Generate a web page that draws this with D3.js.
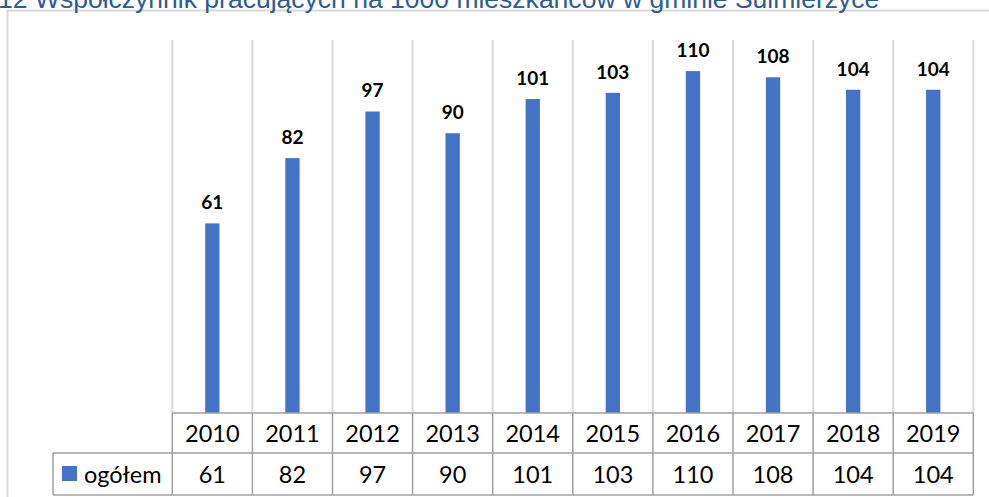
<!DOCTYPE html>
<html>
<head>
<meta charset="utf-8">
<script src="https://cdn.jsdelivr.net/npm/d3@7"></script>
<style>
  html, body { margin: 0; padding: 0; background: #fff; overflow: hidden; }
  svg { display: block; }
</style>
</head>
<body>
<svg id="chart" width="989" height="497"></svg>
<script>
const titleText = "12 Współczynnik pracujących na 1000 mieszkańców w gminie Sulmierzyce";
const years = ["2010","2011","2012","2013","2014","2015","2016","2017","2018","2019"];
const values = [61, 82, 97, 90, 101, 103, 110, 108, 104, 104];
const seriesName = "ogółem";
const yMax = 120;

const svg = d3.select("#chart");
const W = 989, H = 497;
const plot = { left: 172.3, right: 973.3, top: 40, bottom: 413 };
const legendLeft = 53;
const barColor = "#4472C4";
const gridColor = "#d9d9d9";
const tableColor = "#a0a0a0";

// outer chart frame
svg.append("path")
  .attr("d", `M7.5,${H} V10.5 H${W}`)
  .attr("fill", "none").attr("stroke", gridColor).attr("stroke-width", 2);

// title (clipped at top)
const title = svg.append("text")
  .attr("x", -2).attr("y", 8)
  .attr("font-family", "Liberation Sans, Arial, sans-serif")
  .attr("font-size", 24)
  .attr("fill", "#2E5C8F")
  .text(titleText);
const tl = title.node().getComputedTextLength();
title.attr("font-size", 24 * 882 / tl);

const x = d3.scaleBand().domain(years).range([plot.left, plot.right]);
const y = d3.scaleLinear().domain([0, yMax]).range([plot.bottom, plot.top]);

// vertical gridlines at band boundaries
const bounds = years.map(d => x(d)).concat([plot.right]);
svg.append("g").selectAll("line").data(bounds).join("line")
  .attr("x1", d => d).attr("x2", d => d)
  .attr("y1", plot.top).attr("y2", plot.bottom)
  .attr("stroke", gridColor).attr("stroke-width", 2);

// bars
const barW = 14.3;
svg.append("g").selectAll("rect").data(values).join("rect")
  .attr("x", (d, i) => x(years[i]) + x.bandwidth() / 2 - barW / 2)
  .attr("width", barW)
  .attr("y", d => y(d))
  .attr("height", d => y(0) - y(d))
  .attr("fill", barColor);

// data labels
svg.append("g").selectAll("text").data(values).join("text")
  .attr("x", (d, i) => x(years[i]) + x.bandwidth() / 2)
  .attr("y", d => y(d) - 14)
  .attr("text-anchor", "middle")
  .attr("font-family", "Lato, 'Open Sans', sans-serif")
  .attr("font-weight", "bold")
  .attr("font-size", 19)
  .attr("fill", "#000")
  .text(d => d);

// data table
const t = svg.append("g");
const r1 = plot.bottom, r2 = plot.bottom + 40, r3 = H - 2;
t.append("line").attr("x1", plot.left).attr("x2", plot.right).attr("y1", r1).attr("y2", r1);
t.append("line").attr("x1", legendLeft).attr("x2", plot.right).attr("y1", r2).attr("y2", r2);
t.append("line").attr("x1", legendLeft).attr("x2", plot.right).attr("y1", r3).attr("y2", r3);
t.append("line").attr("x1", legendLeft).attr("x2", legendLeft).attr("y1", r2).attr("y2", r3);
t.selectAll("line.v").data(bounds).join("line").attr("class", "v")
  .attr("x1", d => d).attr("x2", d => d).attr("y1", r1).attr("y2", r3);
t.selectAll("line").attr("stroke", tableColor).attr("stroke-width", 1.5);

const tableFont = "Lato, 'Open Sans', sans-serif";
const tfs = 23.5;
t.selectAll("text.yr").data(years).join("text").attr("class", "yr")
  .attr("x", d => x(d) + x.bandwidth() / 2)
  .attr("y", (r1 + r2) / 2 + 8.5)
  .attr("text-anchor", "middle")
  .attr("font-family", tableFont).attr("font-size", tfs).attr("fill", "#000")
  .text(d => d);
t.selectAll("text.val").data(values).join("text").attr("class", "val")
  .attr("x", (d, i) => x(years[i]) + x.bandwidth() / 2)
  .attr("y", (r2 + r3) / 2 + 8.5)
  .attr("text-anchor", "middle")
  .attr("font-family", tableFont).attr("font-size", tfs).attr("fill", "#000")
  .text(d => d);

// legend key in table
t.append("rect").attr("x", 62).attr("y", 466).attr("width", 15).attr("height", 15).attr("fill", barColor);
t.append("text").attr("x", 84).attr("y", (r2 + r3) / 2 + 8.5)
  .attr("font-family", tableFont).attr("font-size", tfs).attr("fill", "#000")
  .text(seriesName);
</script>
</body>
</html>
